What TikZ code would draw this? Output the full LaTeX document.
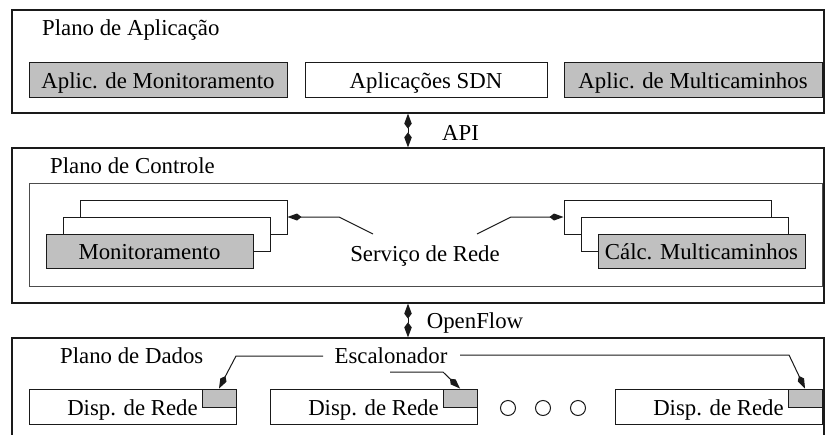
\documentclass[tikz,border=0pt]{standalone}
\usepackage{fontspec}
\setmainfont{Liberation Serif}
\usetikzlibrary{arrows.meta}
\definecolor{boxgray}{HTML}{C0C0C0}
\definecolor{linec}{HTML}{1A1A1A}
\begin{document}
\begin{tikzpicture}[x=1pt,y=-1pt,
  every node/.style={font=\fontsize{22.8}{27}\selectfont, text=black},
  plane/.style={draw=linec, line width=1.2pt, rectangle, inner sep=0pt},
  innerframe/.style={draw=black!70, line width=1pt, rectangle, inner sep=0pt},
  box/.style={draw=linec, line width=1pt, rectangle, inner sep=0pt,
    minimum height=35pt, text height=17pt, text depth=0pt},
  graybox/.style={box, fill=boxgray},
  whitebox/.style={box, fill=white},
  stackbox/.style={draw=linec, line width=1pt, rectangle, inner sep=0pt, fill=white,
    minimum width=207pt, minimum height=34pt, text height=17pt, text depth=0pt},
  schedbox/.style={draw=linec, line width=1pt, rectangle, inner sep=0pt, fill=boxgray,
    minimum width=34pt, minimum height=18pt},
  dot/.style={draw=linec, line width=1pt, circle, inner sep=0pt, minimum size=15pt},
  title/.style={anchor=base west, inner sep=0pt},
  lbl/.style={anchor=base, inner sep=0pt},
  conn/.style={draw=linec, line width=1pt, -{Kite[length=14pt,width=7pt,inset=4.5pt]}},
  dblarrow/.style={draw=linec, line width=1pt,
    {Kite[length=15pt,width=7.5pt,inset=5pt]}-{Kite[length=15pt,width=7.5pt,inset=5pt]}}
]
\clip (0,0) rectangle (825,434);

% Planes
\node[plane, minimum width=812pt, minimum height=103pt] (app) at (418,61.5) {};
\node[plane, minimum width=812pt, minimum height=155pt] (ctrl) at (418,225.5) {};
\node[plane, minimum width=812pt, minimum height=140pt] (data) at (418,408) {};

% Titles
\node[title] (tapp) at (42,35.5) {Plano de Aplicação};
\node[title] (tctrl) at (50,173) {Plano de Controle};
\node[title] (tdata) at (60,363) {Plano de Dados};

% Application plane boxes
\node[graybox, minimum width=258pt] (amon) at (158,79.5) {Aplic. de Monitoramento};
\node[whitebox, minimum width=242pt] (asdn) at (426,79.5) {Aplicações SDN};
\node[graybox, minimum width=258pt] (amul) at (693,79.5) {Aplic. de Multicaminhos};

% API / OpenFlow
\coordinate (ax) at (408,0);
\draw[dblarrow] (app.south -| ax) -- (ctrl.north -| ax);
\node[lbl] (api) at (460.5,140) {API};
\draw[dblarrow] (ctrl.south -| ax) -- (data.north -| ax);
\node[lbl] (of) at (475,328) {OpenFlow};

% Control plane inner frame
\node[innerframe, minimum width=793pt, minimum height=103pt] (frame) at (425.5,234.5) {};

% Left stack
\node[stackbox] (lb) at (183.5,217) {};
\node[stackbox] (lm) at (166.5,234) {};
\node[stackbox, fill=boxgray] (lf) at (149.5,251) {Monitoramento};

% Right stack
\node[stackbox] (rb) at (667.5,217) {};
\node[stackbox] (rm) at (684.5,234) {};
\node[stackbox, fill=boxgray] (rf) at (701.5,251) {Cálc. Multicaminhos};

% Network service
\node[lbl] (serv) at (425,261) {Serviço de Rede};
\coordinate (sl0) at (373,234);
\coordinate (sl1) at (339,217);
\coordinate (sr0) at (477,234);
\coordinate (sr1) at (511,217);
\draw[conn] (sl0) -- (sl1) -- (lb.east);
\draw[conn] (sr0) -- (sr1) -- (rb.west);

% Data plane devices
\node[whitebox, minimum width=207pt] (d1) at (132.5,406.5) {Disp. de Rede};
\node[whitebox, minimum width=207pt] (d2) at (373.5,406.5) {Disp. de Rede};
\node[whitebox, minimum width=207pt] (d3) at (718.5,406.5) {Disp. de Rede};
\node[schedbox] (s1) at (219,398) {};
\node[schedbox] (s2) at (460,398) {};
\node[schedbox] (s3) at (805,398) {};

% Ellipsis circles
\node[dot] (c1) at (508,408) {};
\node[dot] (c2) at (543,408) {};
\node[dot] (c3) at (578,408) {};

% Scheduler
\node[lbl] (esc) at (391,363) {Escalonador};
\coordinate (el0) at (323,356);
\coordinate (el1) at (236,356);
\coordinate (em0) at (390,372);
\coordinate (em1) at (443,372);
\coordinate (er0) at (460,355);
\coordinate (er1) at (789,355);
\draw[conn] (el0) -- (el1) -- (s1.north);
\draw[conn] (em0) -- (em1) -- (s2.north);
\draw[conn] (er0) -- (er1) -- (s3.north);
\end{tikzpicture}
\end{document}
